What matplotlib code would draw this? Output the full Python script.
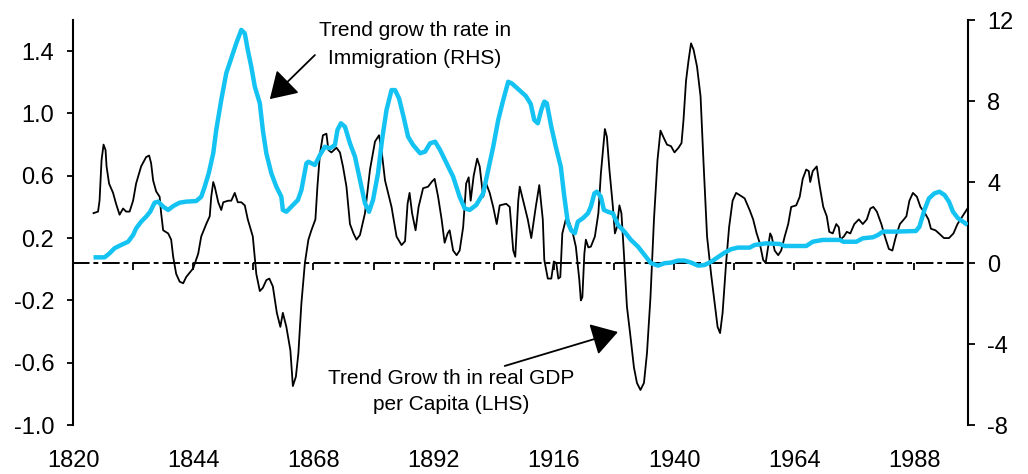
import matplotlib
matplotlib.use("Agg")
import matplotlib.pyplot as plt
from matplotlib.ticker import FixedLocator, NullFormatter

plt.rcParams['font.family'] = ['Liberation Sans', 'DejaVu Sans']

# ---- data ----
gdp_years = [1824.1, 1825.0, 1825.3, 1825.7, 1826.1, 1826.5, 1826.7, 1827.2, 1828.0, 1828.6,
             1829.3, 1830.0, 1830.6, 1831.3, 1832.0, 1832.6, 1833.6, 1834.6, 1835.2, 1835.6,
             1836.0, 1836.6, 1837.3, 1837.6, 1838.0, 1839.0, 1839.6, 1840.0, 1840.6, 1841.3,
             1842.0, 1842.6, 1844.0, 1845.0, 1845.6, 1846.6, 1847.3, 1847.6, 1848.0, 1848.3,
             1849.0, 1849.6, 1850.0, 1851.0, 1851.6, 1852.3, 1852.9, 1853.6, 1854.3, 1854.9,
             1855.9, 1856.6, 1857.3, 1857.9, 1858.6, 1859.2, 1859.9, 1860.7, 1861.4, 1861.9,
             1862.6, 1863.4, 1863.9, 1864.5, 1865.0, 1865.6, 1866.3, 1867.0, 1867.6, 1868.4,
             1868.8, 1869.3, 1869.9, 1870.6, 1871.0, 1871.6, 1872.6, 1873.3, 1873.9, 1874.6,
             1875.3, 1876.0, 1876.6, 1877.3, 1878.3, 1879.3, 1880.3, 1881.1, 1881.6, 1882.3,
             1883.6, 1884.6, 1885.6, 1886.3, 1886.8, 1887.2, 1887.7, 1888.4, 1889.0, 1889.9,
             1890.9, 1891.6, 1892.2, 1892.9, 1893.6, 1894.2, 1894.8, 1895.2, 1895.9, 1896.6,
             1897.2, 1897.9, 1898.5, 1899.0, 1899.4, 1900.0, 1900.7, 1901.2, 1901.9, 1902.5,
             1903.2, 1903.9, 1904.6, 1905.2, 1906.5, 1907.2, 1907.9, 1908.3, 1908.9, 1909.2,
             1910.2, 1910.8, 1911.5, 1912.4, 1913.1, 1913.8, 1914.1, 1914.8, 1915.5, 1916.0,
             1916.5, 1916.9, 1917.3, 1917.7, 1918.4, 1919.0, 1919.8, 1920.4, 1921.1, 1921.4,
             1921.7, 1922.1, 1922.4, 1922.9, 1923.4, 1924.2, 1924.9, 1925.4, 1926.0, 1926.2,
             1926.6, 1927.1, 1927.8, 1928.2, 1928.6, 1929.1, 1929.5, 1930.0, 1930.6, 1931.3,
             1932.0, 1932.6, 1933.3, 1934.0, 1934.6, 1935.3, 1936.0, 1936.7, 1937.3, 1938.0,
             1938.6, 1939.4, 1940.1, 1940.9, 1941.5, 1941.9, 1942.4, 1942.9, 1943.4, 1943.9,
             1944.6, 1945.3, 1945.9, 1946.6, 1947.4, 1948.2, 1948.7, 1949.2, 1949.7, 1950.4,
             1951.0, 1951.7, 1952.4, 1953.4, 1954.1, 1955.1, 1955.8, 1956.5, 1957.1, 1957.8,
             1958.3, 1958.8, 1959.2, 1959.5, 1960.1, 1960.8, 1961.4, 1962.1, 1962.8, 1963.4,
             1964.4, 1965.1, 1965.7, 1966.4, 1966.9, 1967.2, 1967.7, 1968.5, 1969.0, 1969.8,
             1970.5, 1971.0, 1971.7, 1972.4, 1972.9, 1973.2, 1973.9, 1974.5, 1975.2, 1976.0,
             1976.9, 1977.7, 1978.5, 1979.2, 1979.8, 1980.5, 1981.4, 1982.1, 1982.9, 1983.6,
             1984.3, 1985.1, 1985.9, 1986.4, 1987.0, 1987.7, 1988.5, 1989.2, 1990.1, 1990.8,
             1991.3, 1992.2, 1992.9, 1993.9, 1994.9, 1995.8, 1996.6, 1997.6, 1998.6]
gdp_values = [0.36, 0.37, 0.44, 0.70, 0.80, 0.765, 0.66, 0.55, 0.49, 0.42,
              0.35, 0.39, 0.37, 0.37, 0.44, 0.55, 0.66, 0.72, 0.73, 0.68,
              0.57, 0.50, 0.465, 0.36, 0.25, 0.23, 0.19, 0.08, -0.03, -0.08,
              -0.09, -0.05, 0.006, 0.10, 0.21, 0.29, 0.34, 0.465, 0.56, 0.53,
              0.43, 0.38, 0.43, 0.44, 0.44, 0.49, 0.43, 0.43, 0.41, 0.32,
              0.21, -0.03, -0.14, -0.12, -0.07, -0.06, -0.11, -0.28, -0.37, -0.28,
              -0.37, -0.52, -0.75, -0.69, -0.54, -0.22, 0.04, 0.19, 0.25, 0.32,
              0.53, 0.74, 0.86, 0.87, 0.765, 0.75, 0.78, 0.75, 0.66, 0.53,
              0.29, 0.23, 0.19, 0.22, 0.36, 0.64, 0.82, 0.86, 0.765, 0.57,
              0.40, 0.21, 0.155, 0.18, 0.42, 0.49, 0.36, 0.25, 0.40, 0.52,
              0.53, 0.56, 0.58, 0.465, 0.32, 0.17, 0.23, 0.25, 0.12, 0.09,
              0.12, 0.27, 0.55, 0.59, 0.44, 0.60, 0.71, 0.66, 0.465, 0.55,
              0.49, 0.40, 0.29, 0.41, 0.42, 0.40, 0.12, 0.08, 0.44, 0.53,
              0.40, 0.32, 0.20, 0.40, 0.54, 0.32, 0.06, -0.06, -0.06, 0.05,
              0.04, -0.06, -0.05, 0.23, 0.32, 0.31, 0.23, 0.145, -0.07, -0.20,
              -0.18, 0.10, 0.19, 0.14, 0.145, 0.21, 0.36, 0.615, 0.83, 0.90,
              0.85, 0.64, 0.40, 0.23, 0.27, 0.41, 0.36, 0.10, -0.24, -0.43,
              -0.63, -0.73, -0.775, -0.73, -0.54, -0.18, 0.32, 0.70, 0.89, 0.84,
              0.80, 0.79, 0.75, 0.78, 0.81, 0.96, 1.21, 1.34, 1.45, 1.41,
              1.30, 1.11, 0.68, 0.21, -0.03, -0.24, -0.37, -0.41, -0.28, 0.04,
              0.27, 0.44, 0.49, 0.47, 0.455, 0.38, 0.32, 0.23, 0.17, 0.06,
              0.04, 0.145, 0.23, 0.21, 0.12, 0.09, 0.12, 0.21, 0.29, 0.40,
              0.41, 0.465, 0.58, 0.64, 0.63, 0.56, 0.63, 0.66, 0.55, 0.40,
              0.34, 0.24, 0.23, 0.29, 0.27, 0.19, 0.21, 0.24, 0.23, 0.29,
              0.32, 0.29, 0.32, 0.39, 0.40, 0.37, 0.29, 0.21, 0.13, 0.12,
              0.21, 0.29, 0.32, 0.34, 0.44, 0.49, 0.465, 0.40, 0.36, 0.32,
              0.26, 0.25, 0.23, 0.20, 0.20, 0.23, 0.29, 0.34, 0.39]

imm_years = [1824.1, 1826.3, 1827.3, 1828.3, 1829.6, 1831.0, 1832.0, 1832.6, 1833.6, 1834.6,
             1835.4, 1836.3, 1837.0, 1838.0, 1839.0, 1840.0, 1841.3, 1842.6, 1844.6, 1845.6,
             1846.3, 1847.1, 1848.0, 1848.6, 1849.6, 1850.6, 1851.6, 1852.6, 1853.6, 1854.3,
             1854.9, 1855.6, 1856.3, 1857.3, 1857.9, 1858.6, 1859.6, 1860.6, 1861.6, 1861.9,
             1862.6, 1863.9, 1864.9, 1865.6, 1866.6, 1867.0, 1868.3, 1869.3, 1870.3, 1871.3,
             1872.3, 1872.8, 1873.5, 1874.3, 1875.3, 1876.3, 1877.3, 1878.3, 1879.1, 1879.9,
             1880.9, 1881.7, 1882.6, 1883.6, 1884.3, 1885.1, 1886.0, 1886.9, 1887.9, 1889.3,
             1890.3, 1891.3, 1892.3, 1893.3, 1894.6, 1895.9, 1897.2, 1898.2, 1899.2, 1900.5,
             1901.9, 1902.9, 1903.9, 1904.9, 1905.9, 1906.9, 1907.6, 1908.7, 1910.4, 1911.4,
             1912.1, 1912.8, 1913.5, 1914.1, 1914.6, 1915.5, 1916.4, 1917.4, 1918.1, 1918.8,
             1919.5, 1920.2, 1920.8, 1921.8, 1922.8, 1923.4, 1924.1, 1924.6, 1925.4, 1926.0,
             1926.8, 1927.8, 1928.8, 1930.1, 1931.4, 1932.8, 1934.1, 1935.4, 1936.8, 1938.1,
             1939.4, 1940.8, 1942.1, 1943.4, 1944.8, 1946.1, 1947.4, 1948.7, 1950.1, 1951.4,
             1952.7, 1955.1, 1956.1, 1958.4, 1961.1, 1962.1, 1966.4, 1967.7, 1969.7, 1973.1,
             1973.8, 1976.4, 1977.7, 1979.7, 1980.7, 1981.7, 1984.3, 1988.3, 1989.0, 1990.0,
             1990.9, 1992.0, 1993.0, 1994.0, 1994.9, 1995.7, 1996.7, 1997.7, 1998.6]
imm_values = [0.28, 0.28, 0.48, 0.73, 0.89, 1.05, 1.38, 1.71, 2.04, 2.29,
              2.53, 2.98, 3.03, 2.78, 2.62, 2.81, 2.98, 3.03, 3.06, 3.27,
              3.77, 4.43, 5.42, 6.57, 8.05, 9.37, 10.11, 10.85, 11.51, 11.34,
              10.52, 9.69, 8.71, 7.89, 6.57, 5.42, 4.43, 3.77, 3.27, 2.62,
              2.53, 2.86, 3.11, 3.60, 4.92, 5.00, 4.84, 5.33, 5.74, 5.66,
              5.83, 6.57, 6.90, 6.73, 5.91, 5.25, 4.10, 2.95, 2.53, 3.11,
              4.43, 6.07, 7.56, 8.54, 8.54, 8.13, 7.22, 6.24, 5.83, 5.42,
              5.50, 5.91, 5.99, 5.58, 4.92, 4.26, 3.27, 2.70, 2.62, 2.86,
              3.44, 4.59, 5.74, 7.06, 8.05, 8.95, 8.87, 8.63, 8.25, 7.85,
              7.06, 6.90, 7.56, 7.97, 7.89, 6.73, 5.74, 4.75, 3.27, 2.00,
              1.60, 1.47, 2.04, 2.21, 2.45, 2.78, 3.44, 3.52, 3.27, 2.62,
              2.53, 2.45, 1.88, 1.55, 1.14, 0.81, 0.40, -0.01, -0.13, -0.01,
              0.02, 0.12, 0.12, 0.02, -0.13, -0.10, 0.06, 0.28, 0.51, 0.68,
              0.76, 0.76, 0.89, 0.97, 0.94, 0.84, 0.84, 1.05, 1.14, 1.14,
              1.05, 1.05, 1.22, 1.27, 1.38, 1.55, 1.55, 1.58, 1.79, 2.62,
              3.19, 3.44, 3.52, 3.36, 3.03, 2.53, 2.21, 2.04, 1.88]

x_label_years = [1820, 1844, 1868, 1892, 1916, 1940, 1964, 1988]
x_tick_years = list(range(1832, 1999, 12))
left_ticks = [-1.0, -0.6, -0.2, 0.2, 0.6, 1.0, 1.4]
right_ticks = [-8, -4, 0, 4, 8, 12]

FS = 15      # annotation text
TFS = 17     # tick labels
fig = plt.figure(figsize=(10.28, 4.74), dpi=100)
ax = fig.add_axes([73/1028, 49/474, 895/1028, 405/474])
ax2 = ax.twinx()

ax.plot(gdp_years, gdp_values, color='black', lw=1.3, zorder=3)
ax2.plot(imm_years, imm_values, color='#14C3F2', lw=3.2, solid_capstyle='butt', zorder=3)

ax.set_xlim(1820, 1998.7)
ax.set_ylim(-1.0, 1.6)
ax2.set_ylim(-8, 12)

# spines
for a in (ax, ax2):
    a.spines['top'].set_visible(False)
    a.spines['bottom'].set_visible(False)
ax.spines['right'].set_visible(False)
ax2.spines['left'].set_visible(False)
ax.spines['left'].set_linewidth(1.5)
ax2.spines['right'].set_linewidth(1.5)

ax.set_yticks(left_ticks)
ax.set_yticklabels([f"{v:.1f}" for v in left_ticks])
ax.tick_params(axis='y', direction='out', length=4.5, width=1.3, pad=9, labelsize=TFS)
ax2.set_yticks(right_ticks)
ax2.set_yticklabels([str(v) for v in right_ticks])
ax2.tick_params(axis='y', direction='out', length=5, width=1.3, pad=9, labelsize=TFS)

ax.set_xticks(x_label_years)
ax.set_xticklabels([str(y) for y in x_label_years])
ax.tick_params(axis='x', length=0, pad=18, labelsize=TFS)

# zero line of the RHS acting as x axis (dash-dot) with tick marks
zero_frac = (0 - (-8)) / (12 - (-8))
sec = ax.secondary_xaxis(zero_frac)
sec.spines['bottom'].set_linestyle((0, (8, 3, 1.5, 3)))
sec.spines['bottom'].set_linewidth(1.4)
sec.spines['top'].set_visible(False)
sec.xaxis.set_major_locator(FixedLocator(x_tick_years))
sec.xaxis.set_major_formatter(NullFormatter())
sec.tick_params(axis='x', direction='out', length=5, width=1.3)

# annotations
ax.text(1888.3, 1.44, "Trend grow th rate in\nImmigration (RHS)", ha='center', va='center',
        fontsize=FS, linespacing=1.6)
ax.annotate("", xy=(1859.3, 1.092), xytext=(1868.3, 1.375),
            arrowprops=dict(arrowstyle='-|>,head_length=0.45,head_width=0.28',
                            mutation_scale=36, lw=1.3, color='black',
                            shrinkA=0, shrinkB=0))
ax.text(1895.6, -0.785, "Trend Grow th in real GDP\nper Capita (LHS)", ha='center', va='center',
        fontsize=FS, linespacing=1.45)
ax.annotate("", xy=(1928.8, -0.403), xytext=(1906.2, -0.621),
            arrowprops=dict(arrowstyle='-|>,head_length=0.45,head_width=0.28',
                            mutation_scale=36, lw=1.3, color='black',
                            shrinkA=0, shrinkB=0))

fig.savefig("out.png", dpi=100)
